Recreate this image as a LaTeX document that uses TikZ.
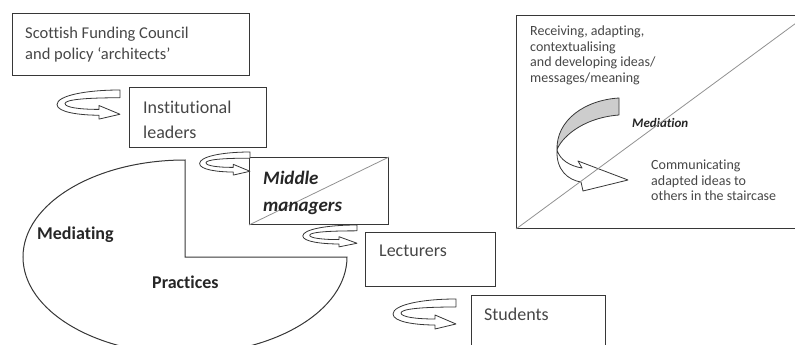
\documentclass[tikz,border=0pt]{standalone}
\usepackage{fontspec}
\setmainfont{Carlito}[Ligatures=NoCommon]
\usetikzlibrary{positioning}

\definecolor{ink}{RGB}{55,55,55}
\definecolor{txtgray}{RGB}{70,70,70}
\definecolor{diaggray}{RGB}{145,145,145}
\definecolor{ribbon}{RGB}{205,205,205}

\tikzset{
  box/.style={draw=ink, line width=1pt, anchor=north west, inner sep=0pt},
  boxtext/.style={anchor=north west, inner sep=0pt, align=left, text=txtgray,
    font=\fontsize{18}{21}\selectfont},
  smalltext/.style={anchor=north west, inner sep=0pt, align=left, text=txtgray,
    font=\fontsize{14}{15.5}\selectfont},
  boldlabel/.style={anchor=west, inner sep=0pt, text=black!85,
    font=\fontsize{18}{21}\selectfont\bfseries},
  diag/.style={draw=diaggray, line width=0.8pt},
  turnline/.style={draw=ink, line width=0.8pt, fill=white, line join=round},
  turn/.pic={
    \draw[turnline] (0,0) .. controls (-35,0) and (-63,6) .. (-63,15)
      .. controls (-63,23) and (-40,26) .. (-21,26) -- (-21,30) -- (0,25)
      -- (-21,16) -- (-21,20) .. controls (-40,20) and (-55,18) .. (-55,14)
      .. controls (-55,10) and (-35,8) .. (0,8) -- cycle;
  }
}

\begin{document}
\begin{tikzpicture}[x=1pt,y=-1pt]
      \useasboundingbox (0,0) rectangle (795,345);
      \clip (0,0) rectangle (795,345);
      %% Mediating practices
      \draw[ink, line width=1pt] (185,257) -- (185,160)
        arc[start angle=270, end angle=0, x radius=162, y radius=97] -- cycle;
      \node[boldlabel] (mediating) at (37,235) {Mediating};
      \node[boldlabel] (practices) at (152,282) {Practices};
      %% Staircase boxes
      \node[box, minimum width=237pt, minimum height=62pt] (sfc) at (12,13) {};
      \node[box, minimum width=137pt, minimum height=60pt] (inst) at (129,87) {};
      \node[box, minimum width=139pt, minimum height=67pt] (mid) at (249,157) {};
      \node[box, minimum width=130pt, minimum height=54pt] (lect) at (365,232) {};
      \node[box, minimum width=134pt, minimum height=70pt] (stud) at (471,295) {};
      \draw[diag] (mid.south west) -- (mid.north east);
      \node[boxtext, font=\fontsize{16.5}{20.5}\selectfont,
        below right=14pt and 13pt of sfc.north west] (sfctxt)
        {Scottish Funding Council\\and policy ‘architects’};
      \node[boxtext, below right=14pt and 14pt of inst.north west] (insttxt)
        {Institutional\\[4pt]leaders};
      \node[boxtext, text=black!85, font=\fontsize{19}{27}\selectfont\bfseries\itshape,
        below right=14pt and 14pt of mid.north west] (midtxt) {Middle\\managers};
      \node[boxtext, below right=13pt and 14pt of lect.north west] (lecttxt) {Lecturers};
      \node[boxtext, below right=13pt and 13pt of stud.north west] (studtxt) {Students};
      %% Turning arrows
      \pic[yscale=0.97] at (120,90) {turn};
      \pic[xscale=0.8, yscale=0.77] at (250,152) {turn};
      \pic[xscale=0.86, yscale=0.73] at (357,225) {turn};
      \pic at (456,299) {turn};
      %% Mediation box
      \node[box, minimum width=290pt, minimum height=213pt] (med) at (516,15) {};
      \node[smalltext, below right=11pt and 14pt of med.north west] (recvtxt)
        {Receiving, adapting,\\contextualising\\and developing ideas/\\messages/meaning};
      \node[smalltext] (commtxt) at (651,160)
        {Communicating\\adapted ideas to\\others in the staircase};
      \draw[turnline, fill=ribbon] (619,98) .. controls (585,100) and (556,120) .. (557,150)
        .. controls (560,140) and (580,118) .. (619,115) -- cycle;
      \draw[turnline] (557,150) .. controls (556,170) and (568,180) .. (581,182)
        -- (583,191) -- (628,180) -- (578,161) -- (582,168)
        .. controls (570,166) and (560,160) .. (557,150) -- cycle;
      \node[anchor=west, inner sep=0pt, text=black!85,
        font=\fontsize{13}{15}\selectfont\bfseries\itshape] (mediation) at (632,123) {Mediation};
      \draw[diag] (med.south west) -- (med.north east);
    \end{tikzpicture}
\end{document}
